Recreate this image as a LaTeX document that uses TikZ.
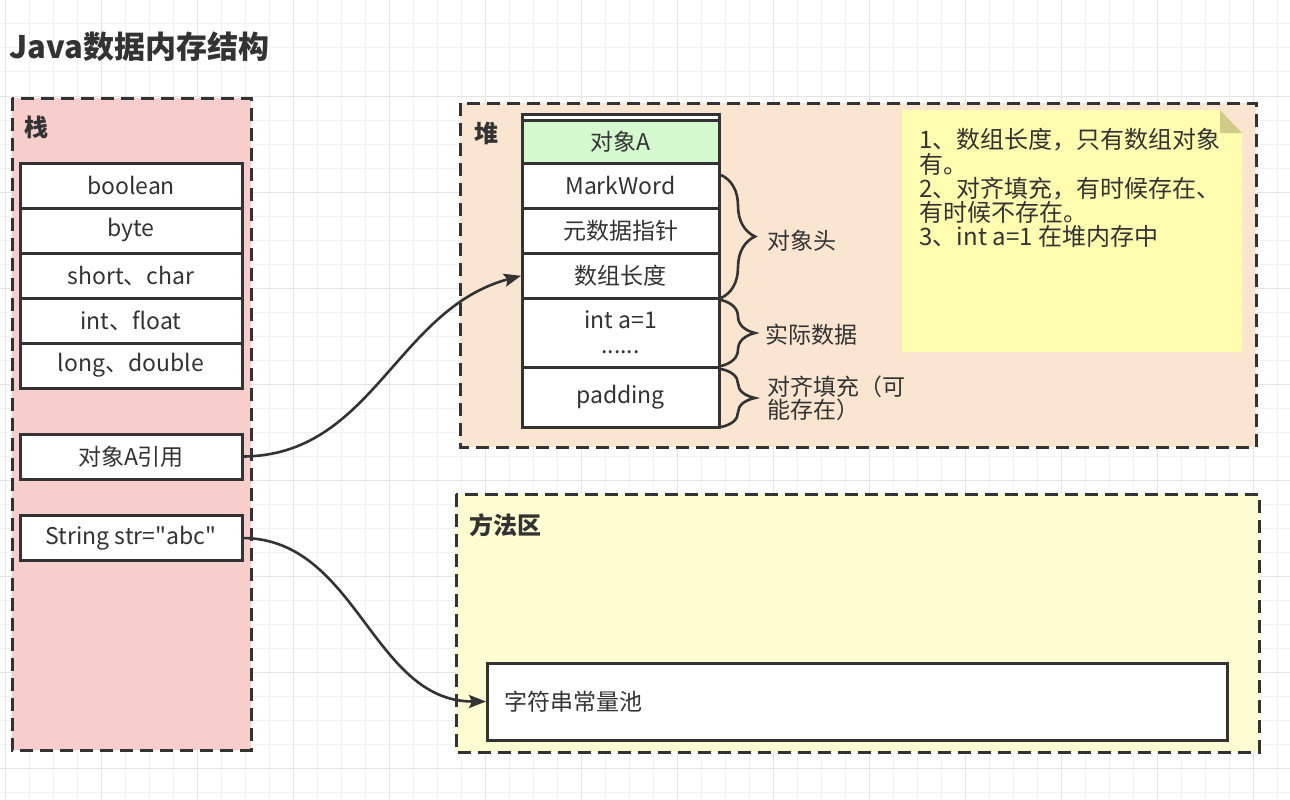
\documentclass[tikz,border=0pt]{standalone}
\usepackage{fontspec}
\setmainfont{Noto Sans CJK SC}
\newfontfamily\plainfont{Noto Sans CJK SC}
\usetikzlibrary{positioning,arrows.meta,decorations.pathreplacing}

\definecolor{ink}{HTML}{333333}
\definecolor{gridminor}{HTML}{F1F1F1}
\definecolor{gridmajor}{HTML}{E4E4E4}
\definecolor{stackbg}{HTML}{F8CECC}
\definecolor{heapbg}{HTML}{FAE5D0}
\definecolor{methodbg}{HTML}{FEFDD2}
\definecolor{notebg}{HTML}{FFFDB0}
\definecolor{notefold}{HTML}{CFCC8A}
\definecolor{objbg}{HTML}{D4F9CF}

\begin{document}
\begin{tikzpicture}[x=1pt,y=-1pt,line width=3pt,
                    >={Stealth[length=17pt,width=13pt,inset=3pt]},
                    panel/.style={draw=ink,dash pattern=on 13pt off 7pt},
                    cell/.style={draw=ink,fill=white,text=ink,inner sep=0pt,outer sep=0pt,
                                 minimum width=222pt,minimum height=45pt,
                                 font=\fontsize{23}{24}\selectfont},
                    objcell/.style={cell,minimum width=197pt},
                    caption/.style={anchor=west,text=ink,font=\bfseries\fontsize{24}{26}\selectfont},
                    tag/.style={anchor=west,text=ink,align=left,font=\fontsize{23}{23}\selectfont},
                    brace/.style={draw=ink,line width=2.6pt,decorate,decoration={brace,amplitude=34pt}},
                    conn/.style={->,draw=ink,line width=2.6pt,shorten >=1pt}]
  \useasboundingbox (0,0) rectangle (1290,800);
  \fill[white] (0,0) rectangle (1290,800);

  % grid
  \foreach \gx in {5,29,...,1290} \draw[gridminor,line width=1pt] (\gx,0) -- (\gx,800);
  \foreach \gy in {0,24,...,800} \draw[gridminor,line width=1pt] (0,\gy) -- (1290,\gy);
  \foreach \gx in {5,101,...,1290} \draw[gridmajor,line width=1pt] (\gx,0) -- (\gx,800);
  \foreach \gy in {0,96,...,800} \draw[gridmajor,line width=1pt] (0,\gy) -- (1290,\gy);

  \node[anchor=west,text=ink,font=\bfseries\fontsize{31}{34}\selectfont] (title) at (5,47) {Java数据内存结构};

  % areas
  \draw[panel,fill=stackbg]  (12,98)  rectangle (251,750);
  \draw[panel,fill=heapbg]   (460,103) rectangle (1256,447);
  \draw[panel,fill=methodbg] (456,494) rectangle (1259,752);
  \node[caption] (stacklbl)  at (20,127)  {栈};
  \node[caption] (heaplbl)   at (470,133) {堆};
  \node[caption] (methodlbl) at (465,525) {方法区};

  % stack
  \node[cell] (boolcell)              at (131,185.5) {boolean};
  \node[cell] (bytecell)  [below=0pt of boolcell]  {byte};
  \node[cell] (shortcell) [below=0pt of bytecell]  {short、char};
  \node[cell] (intcell)   [below=0pt of shortcell] {int、float};
  \node[cell] (longcell)  [below=0pt of intcell]   {long、double};
  \node[cell] (refA)                  at (131,456.5) {对象A引用};
  \node[cell] (strvar)                at (131,538)   {\plainfont String str="abc"};

  % heap object
  \draw[draw=ink,fill=white] (522,114) rectangle (719,427);
  \node[objcell,fill=objbg,minimum height=43pt] (objA) at (620.5,141.5) {对象A};
  \node[objcell] (markword) [below=0pt of objA]     {MarkWord};
  \node[objcell] (metaptr)  [below=0pt of markword] {元数据指针};
  \node[objcell] (arrlen)   [below=0pt of metaptr]  {数组长度};
  \node[objcell,minimum height=69pt,align=center] (fields) [below=0pt of arrlen] {int a=1\\[1pt]......};
  \node[objcell,minimum height=60pt] (padding) [below=0pt of fields] {padding};

  \draw[brace] ([xshift=2pt,yshift=-12pt]markword.north east) -- ([xshift=2pt]arrlen.south east)
        node[tag,midway,xshift=42pt,yshift=-4pt] (hdrlbl) {对象头};
  \draw[brace] ([xshift=2pt,yshift=-2pt]fields.north east) -- ([xshift=2pt,yshift=1pt]fields.south east)
        node[tag,midway,xshift=40pt,yshift=-2pt] (datalbl) {实际数据};
  \draw[brace] ([xshift=2pt,yshift=-2pt]padding.north east) -- ([xshift=2pt]padding.south east)
        node[tag,midway,xshift=42pt,yshift=0pt] (padlbl) {对齐填充（可\\能存在）};

  % note
  \fill[notebg] (902,110) -- (1220,110) -- (1242,133) -- (1242,352) -- (902,352) -- cycle;
  \fill[notefold] (1220,110) -- (1220,133) -- (1242,133) -- cycle;
  \node[anchor=north west,inner sep=0pt,text=ink,align=left,font=\fontsize{24}{24.3}\selectfont]
        (memo) at (918,127)
        {1、数组长度，只有数组对象\\有。\\2、对齐填充，有时候存在、\\有时候不存在。\\3、int a=1 在堆内存中};

  % method area
  \node[cell,minimum width=740pt,minimum height=77pt,text width=706pt,align=left] (pool)
        at (857,701.5) {字符串常量池};

  \draw[conn] (refA.east) to[out=0,in=195] (arrlen.west);
  \draw[conn] (strvar.east) to[out=0,in=180] (pool.west);
\end{tikzpicture}
\end{document}
